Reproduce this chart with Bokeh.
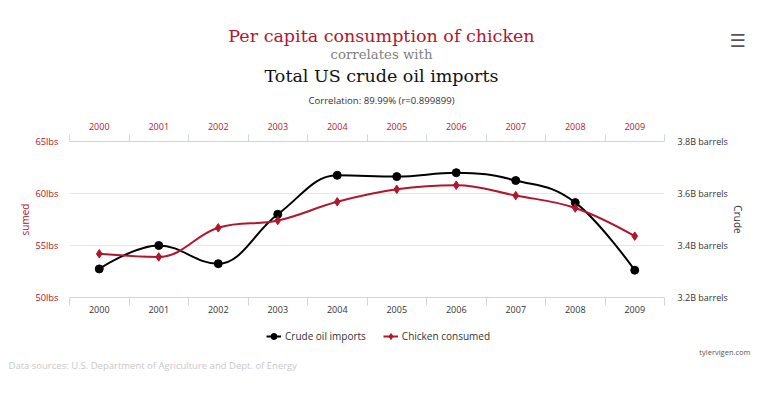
import math
from bokeh.plotting import figure
from bokeh.layouts import column
from bokeh.models import (Range1d, LinearAxis, FixedTicker, PrintfTickFormatter,
                          Label, Legend, LegendItem, Grid)
from bokeh.embed import file_html
from bokeh.resources import INLINE

# ---------------- data ----------------
years = ["2000", "2001", "2002", "2003", "2004", "2005", "2006", "2007", "2008", "2009"]
chicken_lbs = [54.2, 53.9, 56.7, 57.4, 59.2, 60.4, 60.8, 59.8, 58.6, 55.9]
oil_billion_barrels = [3.31, 3.40, 3.33, 3.52, 3.67, 3.665, 3.68, 3.65, 3.565, 3.305]
left_ticks = [50, 55, 60, 65]
right_ticks = [3.2, 3.4, 3.6, 3.8]

RED = "#b1162b"
AXIS_C = "#ccd6eb"
GRID_C = "#e6e6e6"
SANS = "Open Sans"
SERIF = "DejaVu Serif"
W = 761

n = len(years)
centers = [i + 0.5 for i in range(n)]
bounds = [float(i) for i in range(n + 1)]


def spline(xs, ys, smoothing=1.5):
    """Highcharts-like spline: cubic bezier control points through the data."""
    m = len(xs)
    denom = smoothing + 1
    lc = [(xs[i], ys[i]) for i in range(m)]
    rc = [(xs[i], ys[i]) for i in range(m)]
    for i in range(1, m - 1):
        px, py = xs[i], ys[i]
        lx, ly = xs[i - 1], ys[i - 1]
        nx, ny = xs[i + 1], ys[i + 1]
        lcx = (smoothing * px + lx) / denom
        lcy = (smoothing * py + ly) / denom
        rcx = (smoothing * px + nx) / denom
        rcy = (smoothing * py + ny) / denom
        if rcx != lcx:
            corr = (rcy - lcy) * (rcx - px) / (rcx - lcx) + py - rcy
            lcy += corr
            rcy += corr
            if lcy > ly and lcy > py:
                lcy = max(ly, py)
                rcy = 2 * py - lcy
            elif lcy < ly and lcy < py:
                lcy = min(ly, py)
                rcy = 2 * py - lcy
            if rcy > ny and rcy > py:
                rcy = max(ny, py)
                lcy = 2 * py - rcy
            elif rcy < ny and rcy < py:
                rcy = min(ny, py)
                lcy = 2 * py - rcy
        lc[i] = (lcx, lcy)
        rc[i] = (rcx, rcy)
    seg = dict(x0=[], y0=[], x1=[], y1=[], cx0=[], cy0=[], cx1=[], cy1=[])
    for i in range(m - 1):
        seg["x0"].append(xs[i]); seg["y0"].append(ys[i])
        seg["x1"].append(xs[i + 1]); seg["y1"].append(ys[i + 1])
        seg["cx0"].append(rc[i][0]); seg["cy0"].append(rc[i][1])
        seg["cx1"].append(lc[i + 1][0]); seg["cy1"].append(lc[i + 1][1])
    return seg


def blank(height):
    f = figure(width=W, height=height, output_backend="svg", toolbar_location=None,
               x_range=Range1d(0, W), y_range=Range1d(0, height),
               x_axis_location=None, y_axis_location=None, frame_align=False,
               min_border=0, min_border_left=0, min_border_right=0,
               min_border_top=0, min_border_bottom=0)
    for g in f.grid:
        g.visible = False
    f.outline_line_color = None
    f.background_fill_color = "white"
    f.border_fill_color = "white"
    return f


# ---------------- top: titles ----------------
TH = 118
top = blank(TH)
CX = 381
top.add_layout(Label(x=CX, y=TH - 35, x_units="screen", y_units="screen",
                     text="Per capita consumption of chicken", text_font=SERIF,
                     text_font_size="17.5px", text_color=RED, text_align="center",
                     text_baseline="middle"))
top.add_layout(Label(x=CX, y=TH - 54, x_units="screen", y_units="screen",
                     text="correlates with", text_font=SERIF,
                     text_font_size="13.3px", text_color="#808080", text_align="center",
                     text_baseline="middle"))
top.add_layout(Label(x=CX, y=TH - 75, x_units="screen", y_units="screen",
                     text="Total US crude oil imports", text_font=SERIF,
                     text_font_size="17.5px", text_color="#111111", text_align="center",
                     text_baseline="middle"))
top.add_layout(Label(x=CX, y=TH - 100, x_units="screen", y_units="screen",
                     text="Correlation: 89.99% (r=0.899899)", text_font=SANS,
                     text_font_size="9.6px", text_color="#333333", text_align="center",
                     text_baseline="middle"))
top.add_layout(Label(x=737, y=TH - 40, x_units="screen", y_units="screen",
                     text="\u2630", text_font="DejaVu Sans", text_font_style="bold",
                     text_font_size="18px", text_color="#555555", text_align="center",
                     text_baseline="middle"))

# ---------------- main chart ----------------
p = figure(width=W, height=204, output_backend="svg", toolbar_location=None,
           x_range=Range1d(0, n), y_range=Range1d(50, 65),
           x_axis_location=None, y_axis_location=None,
           min_border_left=69, min_border_right=97,
           min_border_top=23, min_border_bottom=25)
for g in p.grid:
    g.visible = False
p.outline_line_color = None
p.background_fill_color = "white"
p.border_fill_color = "white"
p.extra_y_ranges = {"oil": Range1d(3.2, 3.8)}

p.add_layout(Grid(dimension=1, ticker=FixedTicker(ticks=left_ticks),
                  grid_line_color=GRID_C, grid_line_width=1))

overrides = {c: y for c, y in zip(centers, years)}


def x_axis(color, tick_out, standoff):
    return LinearAxis(
        ticker=FixedTicker(ticks=centers, minor_ticks=bounds),
        major_label_overrides=overrides,
        axis_line_color=AXIS_C, axis_line_width=1,
        major_tick_line_color=None, major_tick_out=0, major_tick_in=0,
        minor_tick_line_color=AXIS_C, minor_tick_out=tick_out, minor_tick_in=0,
        major_label_text_font=SANS, major_label_text_font_size="9px",
        major_label_text_color=color, major_label_standoff=standoff)


p.add_layout(x_axis("#333333", 8, 0), "below")
p.add_layout(x_axis(RED, 7, 5), "above")

p.add_layout(LinearAxis(
    ticker=FixedTicker(ticks=left_ticks),
    formatter=PrintfTickFormatter(format="%dlbs"),
    axis_line_color=None, major_tick_line_color=None, minor_tick_line_color=None,
    major_tick_out=0, minor_tick_out=0,
    major_label_text_font=SANS, major_label_text_font_size="9.3px",
    major_label_text_color=RED, major_label_standoff=11,
    axis_label="sumed", axis_label_text_font=SANS, axis_label_text_font_size="10px",
    axis_label_text_font_style="normal", axis_label_text_color=RED,
    axis_label_standoff=0), "left")

p.add_layout(LinearAxis(
    y_range_name="oil",
    ticker=FixedTicker(ticks=right_ticks),
    formatter=PrintfTickFormatter(format="%.1fB barrels"),
    axis_line_color=None, major_tick_line_color=None, minor_tick_line_color=None,
    major_tick_out=0, minor_tick_out=0,
    major_label_text_font=SANS, major_label_text_font_size="9px",
    major_label_text_color="#333333", major_label_standoff=13,
    axis_label="Crude", axis_label_text_font=SANS, axis_label_text_font_size="10px",
    axis_label_text_font_style="normal", axis_label_text_color="#333333",
    axis_label_standoff=0), "right")

s_oil = spline(centers, oil_billion_barrels)
s_ch = spline(centers, chicken_lbs)

p.bezier(source=s_oil, x0="x0", y0="y0", x1="x1", y1="y1", cx0="cx0", cy0="cy0",
         cx1="cx1", cy1="cy1", line_color="black", line_width=2, y_range_name="oil")
p.bezier(source=s_ch, x0="x0", y0="y0", x1="x1", y1="y1", cx0="cx0", cy0="cy0",
         cx1="cx1", cy1="cy1", line_color=RED, line_width=2)
p.scatter(centers, oil_billion_barrels, marker="circle", size=8,
          fill_color="black", line_color="black", y_range_name="oil")
p.scatter(centers, chicken_lbs, marker="diamond", size=8.5,
          fill_color=RED, line_color=RED)

# ---------------- bottom: legend and footer ----------------
BH = 70
bot = blank(BH)
# legend proxies: the same series drawn on a hidden range (out of view)
bot.extra_y_ranges = {"hidden": Range1d(1000, 2000)}
lo = bot.line(centers, oil_billion_barrels, line_color="black", line_width=2,
              y_range_name="hidden")
mo = bot.scatter(centers, oil_billion_barrels, marker="circle", size=8,
                 fill_color="black", line_color="black", y_range_name="hidden")
lc_ = bot.line(centers, chicken_lbs, line_color=RED, line_width=2,
               y_range_name="hidden")
mc = bot.scatter(centers, chicken_lbs, marker="diamond", size=8.5,
                 fill_color=RED, line_color=RED, y_range_name="hidden")
legend = Legend(items=[
    LegendItem(label="Crude oil imports", renderers=[lo, mo]),
    LegendItem(label="Chicken consumed", renderers=[lc_, mc]),
], location=(266, BH - 14 - 8), orientation="horizontal",
    border_line_color=None, background_fill_alpha=0,
    label_text_font=SANS, label_text_font_size="10px", label_text_color="#333333",
    glyph_width=15, glyph_height=16, label_standoff=4, spacing=17, padding=0, margin=0)
bot.add_layout(legend)
bot.add_layout(Label(x=750, y=BH - 29, x_units="screen", y_units="screen",
                     text="tylervigen.com", text_font=SANS,
                     text_font_size="7.5px", text_color="#555555", text_align="right",
                     text_baseline="middle"))
bot.add_layout(Label(x=8, y=BH - 43, x_units="screen", y_units="screen",
                     text="Data sources: U.S. Department of Agriculture and Dept. of Energy",
                     text_font=SANS, text_font_size="9.5px", text_color="#c8c8c8",
                     text_align="left", text_baseline="middle"))

layout = column(top, p, bot, spacing=0)
open("out.html", "w").write(file_html(layout, INLINE))
